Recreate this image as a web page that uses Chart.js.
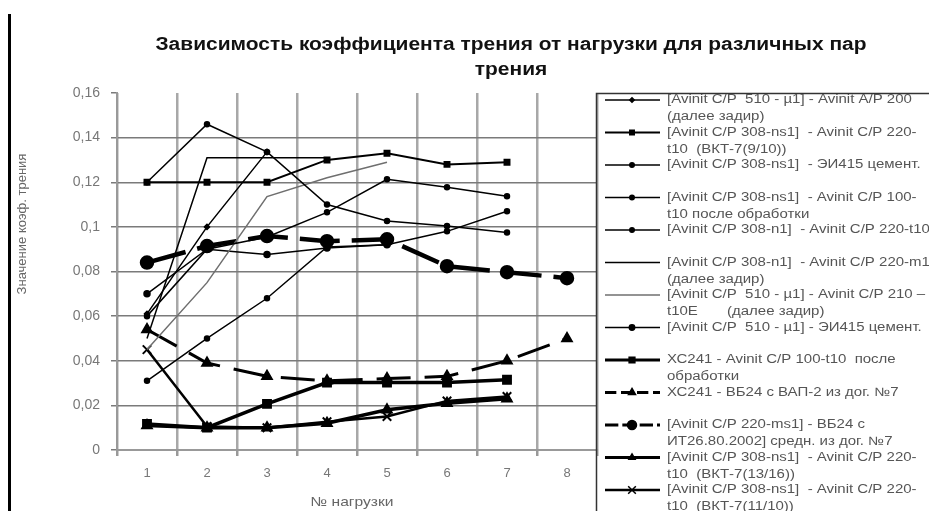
<!DOCTYPE html>
<html>
<head>
<meta charset="utf-8">
<script src="https://cdn.jsdelivr.net/npm/chart.js@4.4.1/dist/chart.umd.min.js"></script>
<style>
  html, body { margin: 0; padding: 0; background: #fff; }
  #wrap { width: 929px; height: 511px; }
</style>
</head>
<body>
<div id="wrap"><canvas id="chart"></canvas></div>
<script>
const loads = ['1', '2', '3', '4', '5', '6', '7', '8'];
const yTicks = [0, 0.02, 0.04, 0.06, 0.08, 0.1, 0.12, 0.14, 0.16];

// values, null = no point
const s1  = [0.061, 0.100, 0.1336, null, null, null, null, null];
const s2  = [0.120, 0.120, 0.120, 0.130, 0.133, 0.128, 0.129, null];
const s3  = [0.120, 0.146, 0.1336, 0.110, 0.1026, 0.1004, 0.0975, null];
const s4  = [0.060, 0.090, 0.0955, 0.1065, 0.1213, 0.1178, 0.1137, null];
const s5  = [0.031, 0.050, 0.068, 0.091, 0.092, 0.098, 0.107, null];
const s6  = [0.050, 0.131, 0.131, 0.131, null, null, null, null];
const s7  = [0.045, 0.075, 0.1136, 0.122, 0.129, null, null, null];
const s8  = [0.070, 0.090, 0.0876, 0.0905, 0.092, null, null, null];
const s9  = [0.0117, 0.010, 0.0207, 0.0302, 0.0302, 0.0302, 0.0315, null];
const s10 = [0.054, 0.039, 0.033, 0.031, 0.032, 0.033, 0.040, 0.050];
const s11 = [0.084, 0.0914, 0.0959, 0.0936, 0.0944, 0.0824, 0.0797, 0.0770];
const s12 = [0.011, 0.010, 0.010, 0.012, 0.018, 0.021, 0.023, null];
const s13 = [0.045, 0.0105, 0.010, 0.0127, 0.015, 0.022, 0.024, null];

const titleLines = ['Зависимость коэффициента трения от нагрузки для различных пар', 'трения'];
const xTitle = '№ нагрузки';
const yTitle = 'Значение коэф. трения';

const legendLabels = [
  ['[Avinit C/P  510 - µ1] - Avinit A/P 200', '(далее задир)'],
  ['[Avinit C/P 308-ns1]  - Avinit C/P 220-', 't10  (ВКТ-7(9/10))'],
  ['[Avinit C/P 308-ns1]  - ЭИ415 цемент.'],
  ['[Avinit C/P 308-ns1]  - Avinit C/P 100-', 't10 после обработки'],
  ['[Avinit C/P 308-n1]  - Avinit C/P 220-t10'],
  ['[Avinit C/P 308-n1]  - Avinit C/P 220-m1', '(далее задир)'],
  ['[Avinit C/P  510 - µ1] - Avinit C/P 210 –', 't10E       (далее задир)'],
  ['[Avinit C/P  510 - µ1] - ЭИ415 цемент.'],
  ['ХС241 - Avinit C/P 100-t10  после', 'обработки'],
  ['ХС241 - ВБ24 с ВАП-2 из дог. №7'],
  ['[Avinit C/P 220-ms1] - ВБ24 с', 'ИТ26.80.2002] средн. из дог. №7'],
  ['[Avinit C/P 308-ns1]  - Avinit C/P 220-', 't10  (ВКТ-7(13/16))'],
  ['[Avinit C/P 308-ns1]  - Avinit C/P 220-', 't10  (ВКТ-7(11/10))']
];

const FONT = '"Liberation Sans", Arial, sans-serif';

function series(data, opts) {
  return Object.assign({
    data: data,
    borderColor: '#000',
    backgroundColor: '#000',
    pointBackgroundColor: '#000',
    pointBorderColor: '#000',
    borderWidth: 1.5,
    pointRadius: 2.5,
    pointStyle: 'circle',
    tension: 0,
    fill: false,
    spanGaps: false
  }, opts);
}

const datasets = [
  series(s1,  { pointStyle: 'rectRot', pointRadius: 2.5 }),
  series(s2,  { pointStyle: 'rect', pointRadius: 3.5, borderWidth: 2 }),
  series(s3,  { pointRadius: 2.5 }),
  series(s4,  { pointRadius: 2.5 }),
  series(s5,  { pointRadius: 2.5 }),
  series(s6,  { pointRadius: 0 }),
  series(s7,  { borderColor: '#6f6f6f', pointStyle: 'line', pointRadius: 0 }),
  series(s8,  { pointRadius: 3 }),
  series(s9,  { pointStyle: 'rect', pointRadius: 4.5, borderWidth: 3.5 }),
  series(s10, { pointStyle: 'triangle', pointRadius: 4.5, borderWidth: 3, borderDash: [34, 14] }),
  series(s11, { pointRadius: 5, borderWidth: 4.5, borderDash: [40, 12] }),
  series(s12, { pointStyle: 'triangle', pointRadius: 4, borderWidth: 3.5 }),
  series(s13, { pointStyle: 'crossRot', pointRadius: 6, borderWidth: 2.5, pointBorderWidth: 2 })
];

// title, axis titles, left bar and the boxed legend
const frame = {
  id: 'frame',
  afterDraw(chart) {
    const { ctx } = chart;
    ctx.save();

    ctx.fillStyle = '#000';
    ctx.fillRect(8, 14, 3, 497);

    // title
    ctx.fillStyle = '#111';
    ctx.font = 'bold 18px ' + FONT;
    ctx.textAlign = 'center';
    ctx.textBaseline = 'middle';
    const sx = 711 / ctx.measureText(titleLines[0]).width;
    titleLines.forEach((t, i) => {
      ctx.save();
      ctx.translate(511, 45 + i * 25);
      ctx.scale(sx, 1);
      ctx.fillText(t, 0, 0);
      ctx.restore();
    });

    // axis titles
    ctx.fillStyle = '#666';
    ctx.font = '13px ' + FONT;
    ctx.save();
    ctx.translate(352, 502);
    ctx.scale(1.2, 1);
    ctx.fillText(xTitle, 0, 0);
    ctx.restore();
    ctx.save();
    ctx.translate(22, 224);
    ctx.rotate(-Math.PI / 2);
    ctx.fillText(yTitle, 0, 0);
    ctx.restore();

    // legend box
    ctx.strokeStyle = '#333';
    ctx.lineWidth = 1.5;
    ctx.strokeRect(596.5, 93.5, 420, 500);

    ctx.textAlign = 'left';
    ctx.font = '12px ' + FONT;
    chart.data.datasets.forEach((ds, i) => {
      const y = 100 + i * 32.5;
      ctx.strokeStyle = ds.borderColor;
      ctx.lineWidth = Math.min(ds.borderWidth, 3);
      ctx.setLineDash((ds.borderDash || []).map(v => v / 3));
      ctx.beginPath();
      ctx.moveTo(605, y);
      ctx.lineTo(660, y);
      ctx.stroke();
      ctx.setLineDash([]);
      if (ds.pointRadius > 0) {
        ctx.fillStyle = ds.pointBackgroundColor;
        ctx.strokeStyle = ds.pointBorderColor;
        ctx.lineWidth = 1.5;
        Chart.helpers.drawPoint(ctx, {
          pointStyle: ds.pointStyle,
          radius: ds.pointRadius * 0.9,
          rotation: 0,
          borderWidth: 1.5
        }, 632, y);
      }
      ctx.fillStyle = '#555';
      legendLabels[i].forEach((t, k) => {
        ctx.save();
        ctx.translate(667, y + k * 17);
        ctx.scale(1.25, 1);
        ctx.fillText(t, 0, 0);
        ctx.restore();
      });
    });

    ctx.restore();
  }
};

new Chart(document.getElementById('chart'), {
  type: 'line',
  data: { labels: loads, datasets: datasets },
  options: {
    responsive: true,
    maintainAspectRatio: false,
    animation: false,
    layout: { padding: { left: 0, top: 93, right: 332, bottom: 0 } },
    plugins: {
      legend: { display: false },
      title: { display: false },
      tooltip: { enabled: false }
    },
    scales: {
      x: {
        offset: true,
        grid: { offset: true, color: '#a8a8a8', lineWidth: 2.5, tickLength: 6, tickColor: '#999' },
        border: { color: '#999', width: 2 },
        ticks: { color: '#777', font: { size: 13, family: FONT }, padding: 10 },
        afterFit(s) { s.height = 61; }
      },
      y: {
        min: 0,
        max: 0.16,
        afterBuildTicks(s) { s.ticks = yTicks.map(v => ({ value: v })); },
        grid: {
          color: c => Math.abs(c.tick.value - 0.16) < 1e-9 ? 'rgba(0,0,0,0)' : '#7a7a7a',
          lineWidth: 1.5,
          tickLength: 6,
          tickColor: '#7a7a7a'
        },
        border: { color: '#999', width: 2 },
        ticks: {
          color: '#777',
          font: { size: 14, family: FONT },
          padding: 11,
          callback: v => String(+v.toFixed(2)).replace('.', ',')
        },
        afterFit(s) { s.width = 117; }
      }
    }
  },
  plugins: [frame]
});
</script>
</body>
</html>
